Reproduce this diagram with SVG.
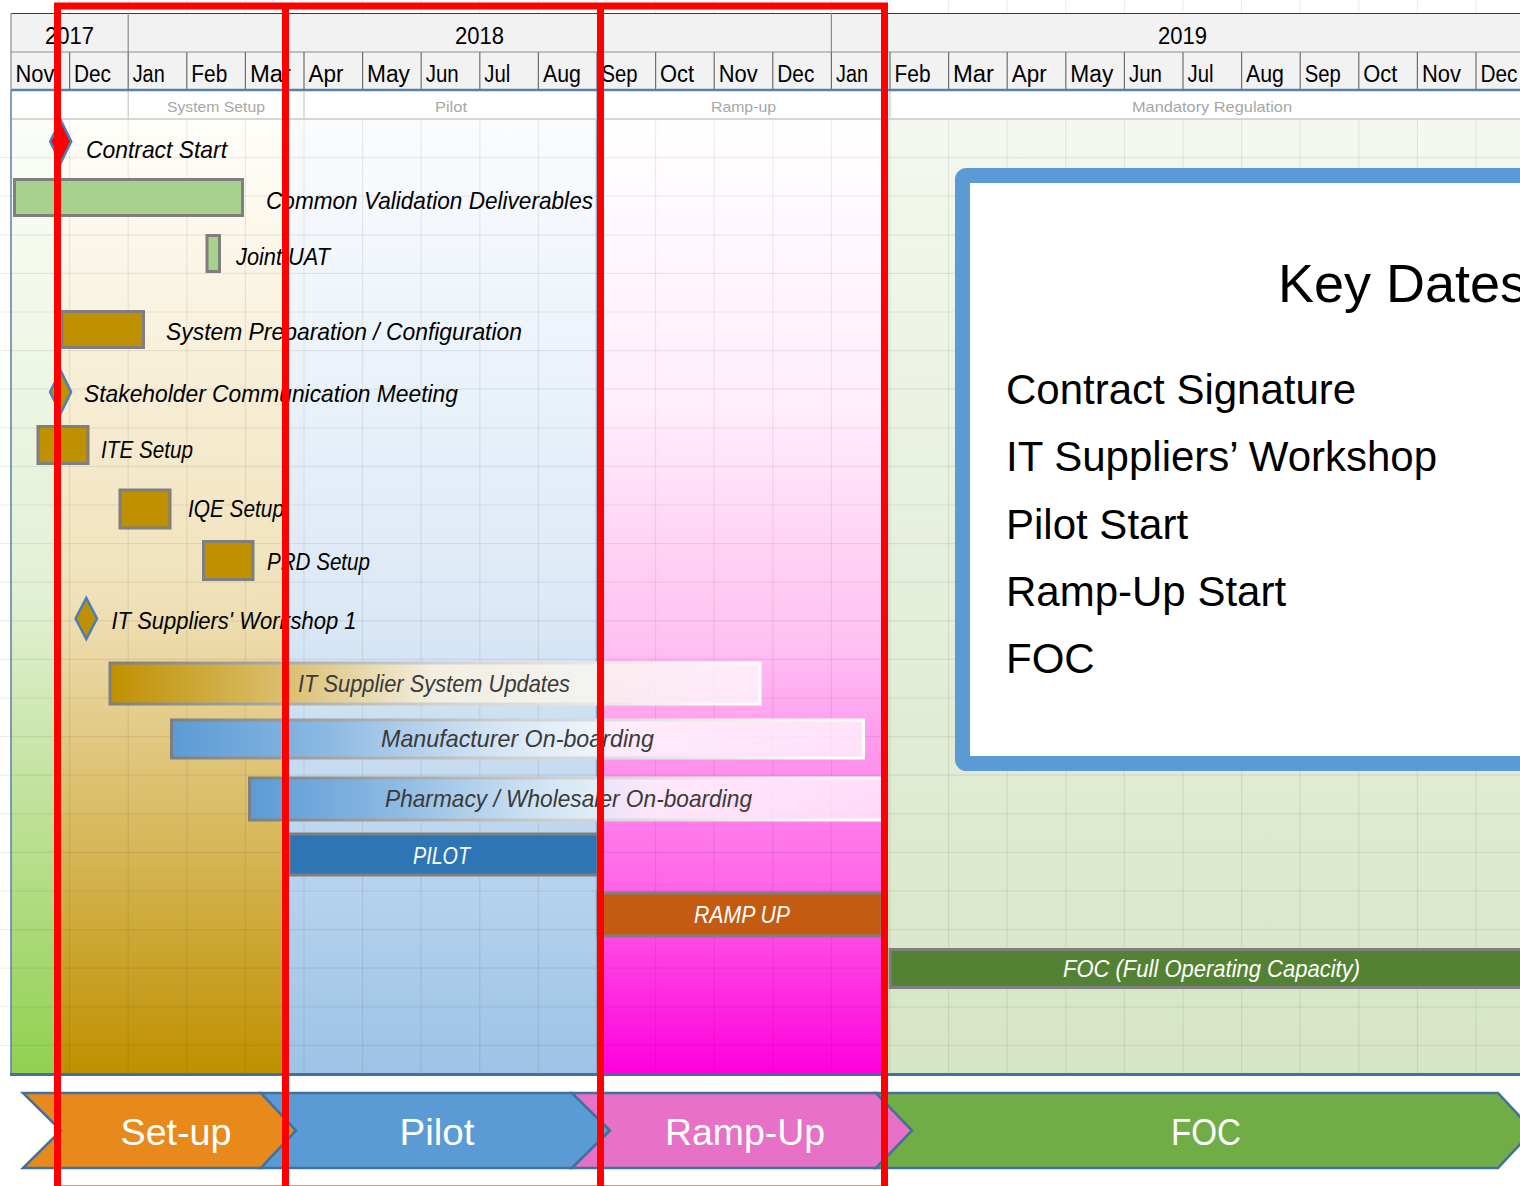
<svg xmlns="http://www.w3.org/2000/svg" width="1520" height="1186" viewBox="0 0 1520 1186">
<style>
.lbl{font-family:"Liberation Sans",Arial,sans-serif;font-style:italic;font-size:24px;fill:#000}
.lblg{font-family:"Liberation Sans",Arial,sans-serif;font-style:italic;font-size:24px;fill:#3a3a3a}
.lblw{font-family:"Liberation Sans",Arial,sans-serif;font-style:italic;font-size:24px;fill:#fff}
.mon{font-family:"Liberation Sans",Arial,sans-serif;font-size:23px;fill:#000}
.yr{font-family:"Liberation Sans",Arial,sans-serif;font-size:23px;fill:#000;text-anchor:middle}
.ph{font-family:"Liberation Sans",Arial,sans-serif;font-size:15px;fill:#a6a6a6;text-anchor:middle}
.chev{stroke:#41719c;stroke-width:2.5;stroke-linejoin:miter}
.chevt{font-family:"Liberation Sans",Arial,sans-serif;font-size:37px;fill:#fff;text-anchor:middle}
.bar{stroke:#7f7f7f;stroke-width:3}
.dia{stroke:#4a7ebb;stroke-width:2.5}
.key{font-family:"Liberation Sans",Arial,sans-serif;font-size:42px;fill:#000}
</style>
<defs>
<linearGradient id="gGreenL" x1="0" y1="0" x2="0" y2="1"><stop offset="0" stop-color="#fbfdf8"/><stop offset="0.5" stop-color="#e2f0d4"/><stop offset="1" stop-color="#92d050"/></linearGradient>
<linearGradient id="gGold" x1="0" y1="0" x2="0" y2="1"><stop offset="0" stop-color="#fffefa"/><stop offset="0.5" stop-color="#f0e1b9"/><stop offset="1" stop-color="#bf9000"/></linearGradient>
<linearGradient id="gBlue" x1="0" y1="0" x2="0" y2="1"><stop offset="0" stop-color="#fafcfe"/><stop offset="0.5" stop-color="#dde9f6"/><stop offset="1" stop-color="#9dc3e6"/></linearGradient>
<linearGradient id="gPink" x1="0" y1="0" x2="0" y2="1"><stop offset="0" stop-color="#ffffff"/><stop offset="0.3" stop-color="#ffeefb"/><stop offset="0.55" stop-color="#ffc0f2"/><stop offset="0.8" stop-color="#ff66e8"/><stop offset="1" stop-color="#ff00dd"/></linearGradient>
<linearGradient id="gGreenR" x1="0" y1="0" x2="0" y2="1"><stop offset="0" stop-color="#f4f8ef"/><stop offset="1" stop-color="#d6e5c5"/></linearGradient>
<linearGradient id="gBarGold" x1="0" y1="0" x2="1" y2="0"><stop offset="0" stop-color="#bf9000"/><stop offset="0.28" stop-color="#dcc173"/><stop offset="0.5" stop-color="#f4efe0" stop-opacity="0.95"/><stop offset="1" stop-color="#ffffff" stop-opacity="0.72"/></linearGradient>
<linearGradient id="gBarBlue" x1="0" y1="0" x2="1" y2="0"><stop offset="0" stop-color="#5b9bd5"/><stop offset="0.22" stop-color="#8ab8e2"/><stop offset="0.45" stop-color="#cfe2f3" stop-opacity="0.95"/><stop offset="0.65" stop-color="#ffffff" stop-opacity="0.8"/><stop offset="1" stop-color="#ffffff" stop-opacity="0.7"/></linearGradient>
<linearGradient id="gStroke" x1="0" y1="0" x2="1" y2="0"><stop offset="0" stop-color="#7f7f7f"/><stop offset="0.5" stop-color="#d0d0d0"/><stop offset="1" stop-color="#ffffff"/></linearGradient>
</defs>
<rect width="1520" height="1186" fill="#fff"/>
<g id="faint-grid" stroke="#ececec" stroke-width="1" fill="none">
<path d="M69.6,0V13M128.2,0V13M186.8,0V13M245.4,0V13M304,0V13M362.6,0V13M421.2,0V13M479.8,0V13M538.4,0V13M597,0V13M655.6,0V13M714.2,0V13M772.8,0V13M831.4,0V13M890,0V13M948.6,0V13M1007.2,0V13M1065.8,0V13M1124.4,0V13M1183,0V13M1241.6,0V13M1300.2,0V13M1358.8,0V13M1417.4,0V13M1476,0V13"/>
<path d="M0,157.6H11M0,196.2H11M0,234.8H11M0,273.4H11M0,312H11M0,350.6H11M0,389.2H11M0,427.8H11M0,466.4H11M0,505H11M0,543.6H11M0,582.2H11M0,620.8H11M0,659.4H11M0,698H11M0,736.6H11M0,775.2H11M0,813.8H11M0,852.4H11M0,891H11M0,929.6H11M0,968.2H11M0,1006.8H11M0,1045.4H11"/>
</g>
<g id="body-background">
<rect x="11" y="119" width="47" height="955" fill="url(#gGreenL)"/>
<rect x="57" y="119" width="229" height="955" fill="url(#gGold)"/>
<rect x="285" y="119" width="313" height="955" fill="url(#gBlue)"/>
<rect x="597" y="119" width="289" height="955" fill="url(#gPink)"/>
<rect x="885" y="119" width="640" height="955" fill="url(#gGreenR)"/>
<path d="M596.5,90V1074" stroke="#9ab4d0" stroke-width="1.5"/>
</g>
<g id="body-grid" stroke="#000" stroke-opacity="0.07" stroke-width="1.2" fill="none">
<path d="M69.6,119V1074M128.2,119V1074M186.8,119V1074M245.4,119V1074M304,119V1074M362.6,119V1074M421.2,119V1074M479.8,119V1074M538.4,119V1074M597,119V1074M655.6,119V1074M714.2,119V1074M772.8,119V1074M831.4,119V1074M890,119V1074M948.6,119V1074M1007.2,119V1074M1065.8,119V1074M1124.4,119V1074M1183,119V1074M1241.6,119V1074M1300.2,119V1074M1358.8,119V1074M1417.4,119V1074M1476,119V1074"/>
<path d="M11,157.6H1520M11,196.2H1520M11,234.8H1520M11,273.4H1520M11,312H1520M11,350.6H1520M11,389.2H1520M11,427.8H1520M11,466.4H1520M11,505H1520M11,543.6H1520M11,582.2H1520M11,620.8H1520M11,659.4H1520M11,698H1520M11,736.6H1520M11,775.2H1520M11,813.8H1520M11,852.4H1520M11,891H1520M11,929.6H1520M11,968.2H1520M11,1006.8H1520M11,1045.4H1520"/>
</g>
<g id="phase-row">
<rect x="11" y="90" width="1515" height="29" fill="#fff"/>
<path d="M11,119H1520" stroke="#c8c8c8" stroke-width="1.5"/>
<path d="M128.2,90V119M304,90V119M890,90V119" stroke="#c8c8c8" stroke-width="1.2"/>
<path d="M597,90V119" stroke="#8fa9c8" stroke-width="1.5"/>
<text class="ph" x="216" y="112" textLength="98" lengthAdjust="spacingAndGlyphs">System Setup</text>
<text class="ph" x="451" y="112" textLength="32" lengthAdjust="spacingAndGlyphs">Pilot</text>
<text class="ph" x="743.5" y="112" textLength="65" lengthAdjust="spacingAndGlyphs">Ramp-up</text>
<text class="ph" x="1212" y="112" textLength="160" lengthAdjust="spacingAndGlyphs">Mandatory Regulation</text>
</g>
<g id="timeline-header">
<rect x="11" y="13" width="1515" height="77" fill="#f2f2f2"/>
<path d="M11,13.5H1520" stroke="#3a3a3a" stroke-width="1.2"/>
<path d="M11,52H1520" stroke="#8c8c8c" stroke-width="1.2"/>
<path d="M11,13V90M128.2,13V52M831.4,13V52" stroke="#8c8c8c" stroke-width="1.2"/>
<path d="M69.6,52V90M128.2,52V90M186.8,52V90M245.4,52V90M304,52V90M362.6,52V90M421.2,52V90M479.8,52V90M538.4,52V90M597,52V90M655.6,52V90M714.2,52V90M772.8,52V90M831.4,52V90M890,52V90M948.6,52V90M1007.2,52V90M1065.8,52V90M1124.4,52V90M1183,52V90M1241.6,52V90M1300.2,52V90M1358.8,52V90M1417.4,52V90M1476,52V90" stroke="#6e6e6e" stroke-width="1.2"/>
<path d="M11,90H1520" stroke="#5a7fa8" stroke-width="2.5"/>
<text class="yr" x="69.5" y="44" textLength="49" lengthAdjust="spacingAndGlyphs">2017</text>
<text class="yr" x="479.5" y="44" textLength="49" lengthAdjust="spacingAndGlyphs">2018</text>
<text class="yr" x="1182.5" y="44" textLength="49" lengthAdjust="spacingAndGlyphs">2019</text>
<text class="mon" x="15.5" y="82" textLength="39" lengthAdjust="spacingAndGlyphs">Nov</text>
<text class="mon" x="74" y="82" textLength="37" lengthAdjust="spacingAndGlyphs">Dec</text>
<text class="mon" x="132.7" y="82" textLength="32" lengthAdjust="spacingAndGlyphs">Jan</text>
<text class="mon" x="191.3" y="82" textLength="36" lengthAdjust="spacingAndGlyphs">Feb</text>
<text class="mon" x="250" y="82" textLength="41" lengthAdjust="spacingAndGlyphs">Mar</text>
<text class="mon" x="308.5" y="82" textLength="35" lengthAdjust="spacingAndGlyphs">Apr</text>
<text class="mon" x="367" y="82" textLength="43" lengthAdjust="spacingAndGlyphs">May</text>
<text class="mon" x="425.7" y="82" textLength="33" lengthAdjust="spacingAndGlyphs">Jun</text>
<text class="mon" x="484.3" y="82" textLength="26" lengthAdjust="spacingAndGlyphs">Jul</text>
<text class="mon" x="543" y="82" textLength="38" lengthAdjust="spacingAndGlyphs">Aug</text>
<text class="mon" x="601.5" y="82" textLength="36" lengthAdjust="spacingAndGlyphs">Sep</text>
<text class="mon" x="660" y="82" textLength="34" lengthAdjust="spacingAndGlyphs">Oct</text>
<text class="mon" x="718.7" y="82" textLength="39" lengthAdjust="spacingAndGlyphs">Nov</text>
<text class="mon" x="777.3" y="82" textLength="37" lengthAdjust="spacingAndGlyphs">Dec</text>
<text class="mon" x="836" y="82" textLength="32" lengthAdjust="spacingAndGlyphs">Jan</text>
<text class="mon" x="894.5" y="82" textLength="36" lengthAdjust="spacingAndGlyphs">Feb</text>
<text class="mon" x="953" y="82" textLength="41" lengthAdjust="spacingAndGlyphs">Mar</text>
<text class="mon" x="1011.7" y="82" textLength="35" lengthAdjust="spacingAndGlyphs">Apr</text>
<text class="mon" x="1070.3" y="82" textLength="43" lengthAdjust="spacingAndGlyphs">May</text>
<text class="mon" x="1129" y="82" textLength="33" lengthAdjust="spacingAndGlyphs">Jun</text>
<text class="mon" x="1187.5" y="82" textLength="26" lengthAdjust="spacingAndGlyphs">Jul</text>
<text class="mon" x="1246" y="82" textLength="38" lengthAdjust="spacingAndGlyphs">Aug</text>
<text class="mon" x="1304.7" y="82" textLength="36" lengthAdjust="spacingAndGlyphs">Sep</text>
<text class="mon" x="1363.3" y="82" textLength="34" lengthAdjust="spacingAndGlyphs">Oct</text>
<text class="mon" x="1422" y="82" textLength="39" lengthAdjust="spacingAndGlyphs">Nov</text>
<text class="mon" x="1480.5" y="82" textLength="37" lengthAdjust="spacingAndGlyphs">Dec</text>
</g>
<g id="connectors"></g>
<g id="contract-start">
<path class="dia" d="M60.7,120 L71.2,141.5 L60.7,163 L50.2,141.5 Z" fill="#ff0000"/>
<text class="lbl" x="86" y="158" textLength="141" lengthAdjust="spacingAndGlyphs">Contract Start</text>
</g>
<g id="common-validation-deliverables">
<rect class="bar" x="14.5" y="179.5" width="228" height="36" fill="#a9d18e"/>
<text class="lbl" x="266" y="209" textLength="327" lengthAdjust="spacingAndGlyphs">Common Validation Deliverables</text>
</g>
<g id="joint-uat">
<rect class="bar" x="207" y="235.5" width="12.5" height="36" fill="#a9d18e"/>
<text class="lbl" x="236" y="265" textLength="94" lengthAdjust="spacingAndGlyphs">Joint UAT</text>
</g>
<g id="system-preparation">
<rect class="bar" x="62" y="311.5" width="81.5" height="36" fill="#bf9000"/>
<text class="lbl" x="166" y="340" textLength="356" lengthAdjust="spacingAndGlyphs">System Preparation / Configuration</text>
</g>
<g id="stakeholder-meeting">
<path class="dia" d="M60.6,370.5 L71.1,392 L60.6,413.5 L50.1,392 Z" fill="#bf9000"/>
<text class="lbl" x="84" y="402" textLength="374" lengthAdjust="spacingAndGlyphs">Stakeholder Communication Meeting</text>
</g>
<g id="ite-setup">
<rect class="bar" x="38" y="426.5" width="50" height="37" fill="#bf9000"/>
<text class="lbl" x="101" y="458" textLength="92" lengthAdjust="spacingAndGlyphs">ITE Setup</text>
</g>
<g id="iqe-setup">
<rect class="bar" x="120" y="490" width="50" height="38" fill="#bf9000"/>
<text class="lbl" x="188" y="517" textLength="96" lengthAdjust="spacingAndGlyphs">IQE Setup</text>
</g>
<g id="prd-setup">
<rect class="bar" x="203.5" y="541.5" width="49.5" height="38" fill="#bf9000"/>
<text class="lbl" x="267" y="570" textLength="103" lengthAdjust="spacingAndGlyphs">PRD Setup</text>
</g>
<g id="it-suppliers-workshop">
<path class="dia" d="M86.3,598 L97,618.5 L86.3,639 L75.6,618.5 Z" fill="#bf9000"/>
<text class="lbl" x="111.5" y="629" textLength="245" lengthAdjust="spacingAndGlyphs">IT Suppliers' Workshop 1</text>
</g>
<g id="it-supplier-system-updates">
<rect x="110" y="663" width="650" height="41" fill="url(#gBarGold)" stroke="url(#gStroke)" stroke-width="3"/>
<text class="lblg" x="298" y="692" textLength="272" lengthAdjust="spacingAndGlyphs">IT Supplier System Updates</text>
</g>
<g id="manufacturer-onboarding">
<rect x="171.5" y="720" width="692" height="38" fill="url(#gBarBlue)" stroke="url(#gStroke)" stroke-width="3"/>
<text class="lblg" x="381" y="747" textLength="273" lengthAdjust="spacingAndGlyphs">Manufacturer On-boarding</text>
</g>
<g id="pharmacy-onboarding">
<rect x="249.5" y="778" width="633" height="42" fill="url(#gBarBlue)" stroke="url(#gStroke)" stroke-width="3"/>
<text class="lblg" x="385" y="807" textLength="367" lengthAdjust="spacingAndGlyphs">Pharmacy / Wholesaler On-boarding</text>
</g>
<g id="pilot-bar">
<rect class="bar" x="289" y="834" width="309" height="41" fill="#2e75b6"/>
<text class="lblw" x="441.5" y="864" text-anchor="middle" textLength="57" lengthAdjust="spacingAndGlyphs">PILOT</text>
</g>
<g id="ramp-up-bar">
<rect class="bar" x="598" y="893" width="284" height="43" fill="#c55a11"/>
<text class="lblw" x="742" y="923" text-anchor="middle" textLength="96" lengthAdjust="spacingAndGlyphs">RAMP UP</text>
</g>
<g id="foc-bar">
<rect class="bar" x="890" y="949.5" width="640" height="38" fill="#548235"/>
<text class="lblw" x="1211.5" y="977" text-anchor="middle" textLength="297" lengthAdjust="spacingAndGlyphs">FOC (Full Operating Capacity)</text>
</g>
<g id="key-dates">
<rect x="962.5" y="175.5" width="600" height="588" rx="4" fill="#fff" stroke="#5b9bd5" stroke-width="15"/>
<text x="1278" y="302" font-family="'Liberation Sans',Arial,sans-serif" font-size="54" fill="#000">Key Dates</text>
<text class="key" x="1006" y="404">Contract Signature</text>
<text class="key" x="1006" y="471">IT Suppliers’ Workshop</text>
<text class="key" x="1006" y="539">Pilot Start</text>
<text class="key" x="1006" y="606">Ramp-Up Start</text>
<text class="key" x="1006" y="673">FOC</text>
</g>
<g id="body-border" fill="none">
<path d="M11,90V1074" stroke="#5a7fa8" stroke-width="1.5"/>
<path d="M10,1074.5H1520" stroke="#41719c" stroke-width="3"/>
</g>
<g id="phase-chevrons">
<g id="chev-setup"><path class="chev" d="M23,1093 L261,1093 L296,1130.5 L261,1168 L23,1168 L61,1130.5 Z" fill="#e8891c"/><text class="chevt" x="176" y="1145" textLength="111" lengthAdjust="spacingAndGlyphs">Set-up</text></g>
<g id="chev-pilot"><path class="chev" d="M261,1093 L572,1093 L610,1130.5 L572,1168 L261,1168 L296,1130.5 Z" fill="#5b9bd5"/><text class="chevt" x="437" y="1145" textLength="75" lengthAdjust="spacingAndGlyphs">Pilot</text></g>
<g id="chev-rampup"><path class="chev" d="M572,1093 L876,1093 L912,1130.5 L876,1168 L572,1168 L610,1130.5 Z" fill="#e671c6"/><text class="chevt" x="745" y="1145" textLength="160" lengthAdjust="spacingAndGlyphs">Ramp-Up</text></g>
<g id="chev-foc"><path class="chev" d="M876,1093 L1498,1093 L1533,1130.5 L1498,1168 L876,1168 L912,1130.5 Z" fill="#70ad47"/><text class="chevt" x="1206" y="1145" textLength="70" lengthAdjust="spacingAndGlyphs">FOC</text></g>
</g>
<g id="phase-frames" fill="none" stroke="#ff0000" stroke-width="7">
<path d="M57.5,1189 V6 H884.5 V1189 Z M285.5,6 V1189 M600.5,6 V1189"/>
</g>
</svg>
